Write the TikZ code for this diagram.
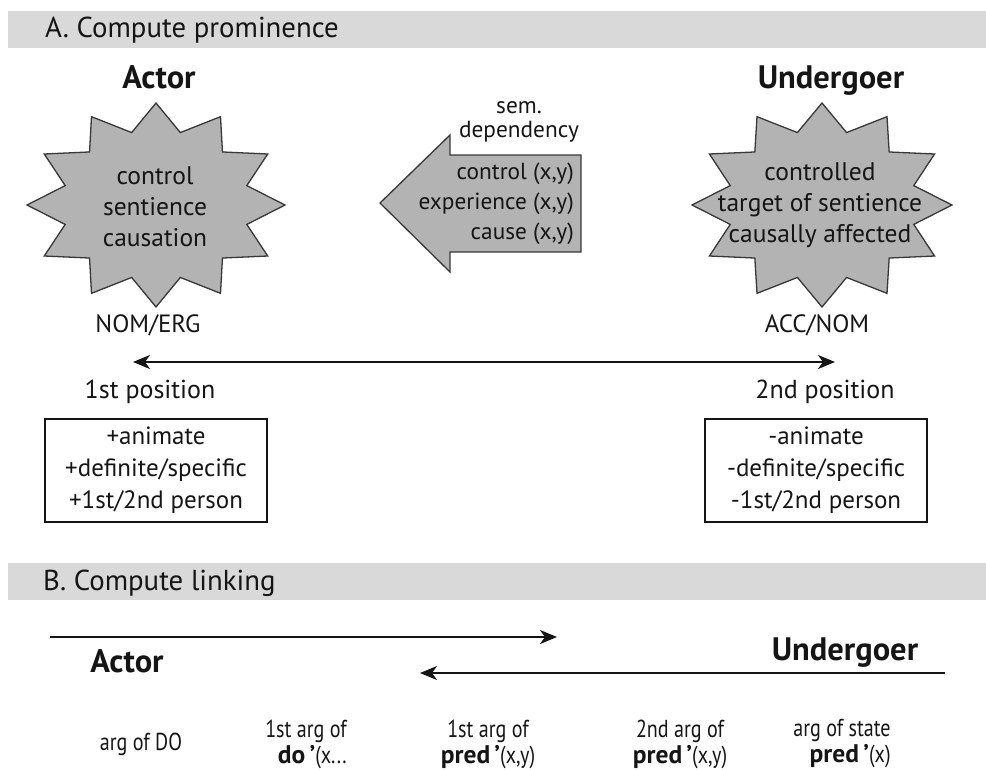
\documentclass[tikz,border=0pt]{standalone}
\usepackage{fontspec}
\setmainfont{PT Sans}
\newfontfamily\condfont[FakeStretch=0.82]{PT Sans}
\usetikzlibrary{arrows.meta}
\definecolor{bandgray}{HTML}{D9D9D9}
\definecolor{stargray}{HTML}{B3B3B3}
\definecolor{ink}{HTML}{151515}
\begin{document}
\begin{tikzpicture}[x=1pt,y=-1pt,
  >={Stealth[length=17pt,width=14pt,inset=5pt]},
  band/.style={fill=bandgray,draw=none},
  heading/.style={font=\fontsize{28.8}{30}\selectfont, anchor=base west, inner sep=0pt, text=ink},
  rolelabel/.style={font=\bfseries\fontsize{32.5}{34}\selectfont, anchor=base, inner sep=0pt, text=ink},
  startext/.style={font=\fontsize{25.5}{31}\selectfont, align=center, inner sep=0pt, text=ink},
  starshape/.style={fill=stargray, draw=ink!85, line width=1.3pt, line join=miter},
  small/.style={font=\fontsize{25}{30}\selectfont, inner sep=0pt, text=ink},
  deptext/.style={font=\fontsize{23.3}{30}\selectfont, inner sep=0pt, text=ink},
  boxtext/.style={font=\fontsize{25}{32}\selectfont, align=center, inner sep=0pt, text=ink},
  featbox/.style={draw=ink, line width=1.4pt, fill=none},
  conn/.style={draw=ink, line width=2pt},
  colabel/.style={font=\condfont\fontsize{24.5}{26}\selectfont, inner sep=0pt, text=ink},
]
\newcommand{\bpart}[1]{{\normalfont\bfseries\fontsize{25.5}{26}\selectfont #1}}
\useasboundingbox (0,0) rectangle (986,769);

% ---------- Section A ----------
\fill[band] (8,11) rectangle (986,48);
\node[heading] (headA) at (45,37) {A.\ Compute prominence};

\node[rolelabel] (actorlab) at (159,88) {Actor};
\node[rolelabel] (undlab) at (831,88) {Undergoer};

% Actor star
\draw[starshape, shift={(156,205)}] (90:129 and 102)
  \foreach \k in {0,...,11}{ -- ({105+30*\k}:94 and 75) -- ({120+30*\k}:129 and 102)} -- cycle;
\node[startext] (actortext) at (155,207) {control\\sentience\\causation};

% Undergoer star
\draw[starshape, shift={(822,205)}] (90:130 and 102)
  \foreach \k in {0,...,11}{ -- ({105+30*\k}:95 and 75) -- ({120+30*\k}:130 and 102)} -- cycle;
\node[startext] (undtext) at (820,205) {controlled\\target of sentience\\causally affected};

% semantic dependency arrow
\draw[starshape] (380,203) -- (450,135) -- (450,155) -- (581,155) -- (581,252)
  -- (450,252) -- (450,272) -- cycle;
\node[deptext, align=center, font=\fontsize{23.3}{23.5}\selectfont] (semdep) at (519,122) {sem.\\dependency};
\node[deptext, align=right, anchor=east] (deps) at (574,204) {control (x,y)\\experience (x,y)\\cause (x,y)};

\node[small, anchor=base] (nomerg) at (148,332) {NOM/ERG};
\node[small, anchor=base] (accnom) at (817,332) {ACC/NOM};

\coordinate (dl) at (133,362);
\coordinate (dr) at (835,362);
\draw[conn, <->] (dl) -- (dr);

\node[small, anchor=base, font=\fontsize{26}{30}\selectfont] (pos1) at (150,398) {1st position};
\node[small, anchor=base, font=\fontsize{26}{30}\selectfont] (pos2) at (825,398) {2nd position};

\draw[featbox] (45,419) rectangle (267,522);
\node[boxtext] (featL) at (156,470) {+animate\\+definite/specific\\+1st/2nd person};
\draw[featbox] (705,419) rectangle (927,522);
\node[boxtext] (featR) at (816,470) {-animate\\-definite/specific\\-1st/2nd person};

% ---------- Section B ----------
\fill[band] (8,563) rectangle (986,600);
\node[heading] (headB) at (43,590) {B.\ Compute linking};

\coordinate (a1) at (50,637);
\coordinate (a2) at (557,637);
\draw[conn, ->] (a1) -- (a2);
\coordinate (u1) at (945,673);
\coordinate (u2) at (420,673);
\draw[conn, ->] (u1) -- (u2);

\node[rolelabel] (actorB) at (127,672) {Actor};
\node[rolelabel] (undB) at (845,660) {Undergoer};

\node[colabel] (c1) at (141,744) {arg of DO};
\node[colabel, align=right] (c2) at (306,744) {1st arg of\\\bpart{do\,’}(x...};
\node[colabel, align=center] (c3) at (488,744) {1st arg of\\\bpart{pred\,’}(x,y)};
\node[colabel, align=center] (c4) at (680,744) {2nd arg of\\\bpart{pred\,’}(x,y)};
\node[colabel, align=right] (c5) at (842,744) {arg of state\\\bpart{pred\,’}(x)};
\end{tikzpicture}
\end{document}
